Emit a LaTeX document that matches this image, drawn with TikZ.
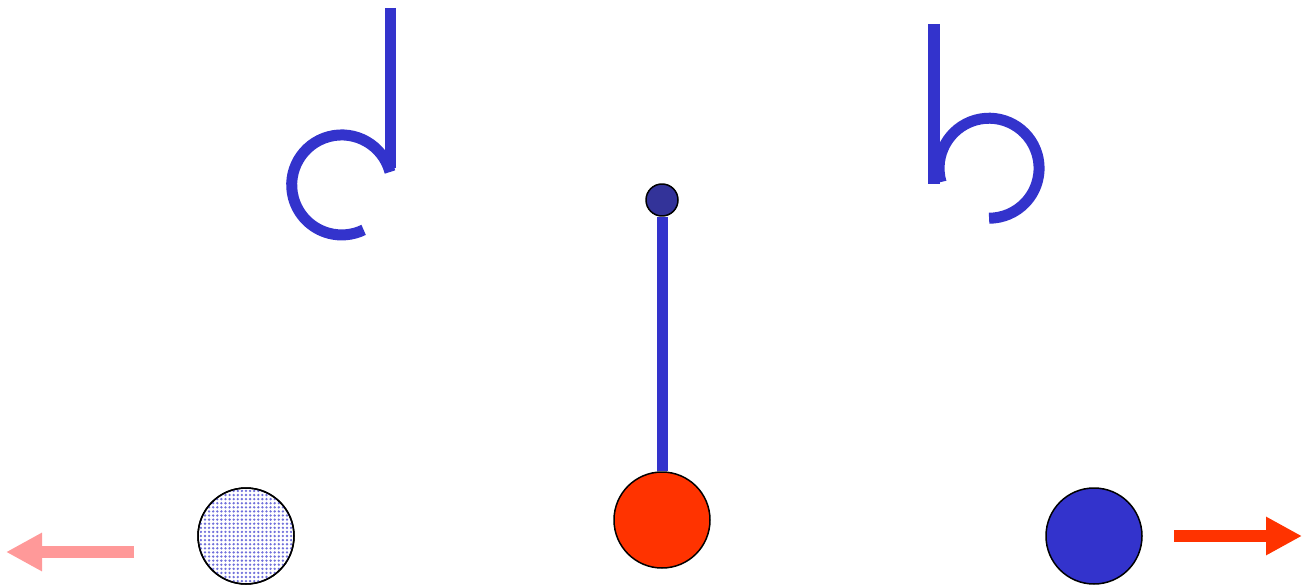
\documentclass[tikz,border=0pt]{standalone}
\usetikzlibrary{arrows.meta}
\definecolor{rodblue}{HTML}{3333CC}
\definecolor{pivotblue}{HTML}{333399}
\definecolor{bobred}{HTML}{FF3300}
\definecolor{fadered}{HTML}{FF9999}
\begin{document}
\begin{tikzpicture}[x=1pt,y=-1pt,line join=round]
	\tikzset{ball/.style={circle,draw=black,line width=1.5pt,inner sep=0pt,minimum size=96pt},
		rod/.style={rodblue,line width=11pt},
		push/.style={line width=12pt,-{Triangle[length=36pt,width=36pt]}}}
	\useasboundingbox (0,0) rectangle (1314,588);
	\def\r{48}
	\draw[rod] (390,8)--(390,168);
	\draw[rod] (390,172) arc[start angle=-15,end angle=-296,radius=50];
	\draw[rod,line width=12pt] (934,24)--(934,184);
	\draw[rod] (941,182) arc[start angle=164,end angle=450,radius=50];
	\node[circle,draw=black,line width=1.5pt,fill=pivotblue,inner sep=0pt,minimum size=32pt] (pivot) at (662,200) {};
	\node[ball,fill=bobred] (bob) at (662,520) {};
	\draw[rod] (pivot.south)--(bob.north);
	\node[ball,fill=white] (leftball) at (246,536) {};
	\begin{scope}
		\clip (246,536) circle (\r);
		\foreach \i in {-12,...,12}
			\foreach \j in {-12,...,12}
				\fill[rodblue!70] (246+4.1*\i,536+4.1*\j) circle (1.3);
	\end{scope}
	\draw[black,line width=1.5pt] (leftball.center) circle (\r);
	\node[ball,fill=rodblue] (rightball) at (1094,536) {};
	\coordinate (lefttail) at (134,552);
	\coordinate (lefttip) at (6,552);
	\coordinate (righttail) at (1174,536);
	\coordinate (righttip) at (1302,536);
	\draw[push,fadered] (lefttail)--(lefttip);
	\draw[push,bobred] (righttail)--(righttip);
\end{tikzpicture}
\end{document}
